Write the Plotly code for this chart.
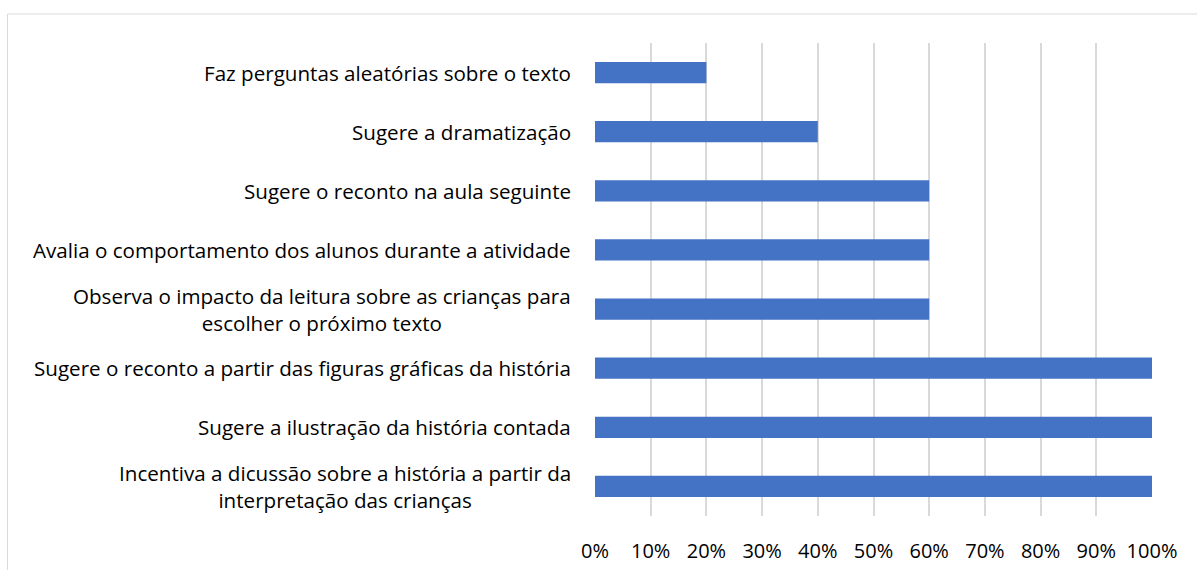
import plotly.graph_objects as go

categories = [
    "Faz perguntas aleatórias sobre o texto",
    "Sugere a dramatização",
    "Sugere o reconto na aula seguinte",
    "Avalia o comportamento dos alunos durante a atividade",
    "Observa o impacto da leitura sobre as crianças para<br>escolher o próximo texto",
    "Sugere o reconto a partir das figuras gráficas da história",
    "Sugere a ilustração da história contada",
    "Incentiva a dicussão sobre a história a partir da<br>interpretação das crianças",
]
values = [0.20, 0.40, 0.60, 0.60, 0.60, 1.00, 1.00, 1.00]
tick_vals = [i / 10 for i in range(11)]
tick_text = [f"{i*10}%" for i in range(11)]

FONT = "Open Sans"
fig = go.Figure(go.Bar(
    x=values, y=list(range(len(categories))), orientation="h",
    marker=dict(color="#4472C4", line=dict(width=0)),
    hoverinfo="skip",
))

for i, c in enumerate(categories):
    fig.add_annotation(
        x=0, y=i, xref="x", yref="y", text=c, showarrow=False,
        xanchor="right", yanchor="middle", align="center", xshift=-22,
        font=dict(family=FONT, size=20.6, color="#000000"),
    )

fig.add_shape(type="rect", xref="paper", yref="paper",
              x0=-1.0548, x1=1.3, y0=-0.3, y1=1.0613,
              line=dict(color="#d9d9d9", width=1), fillcolor="rgba(0,0,0,0)", layer="below")

fig.update_layout(
    width=1197, height=570,
    margin=dict(l=595, r=45, t=43, b=54, autoexpand=False),
    plot_bgcolor="white", paper_bgcolor="white",
    bargap=0.64, showlegend=False,
    xaxis=dict(range=[0, 1], tickvals=tick_vals, ticktext=tick_text,
               showgrid=True, gridcolor="#d9d9d9", gridwidth=1.5,
               zeroline=False, showline=False, ticks="", automargin=False,
               tickfont=dict(family=FONT, size=20, color="#000000"),
               ticklabelstandoff=21, fixedrange=True),
    yaxis=dict(autorange="reversed", showticklabels=False, showgrid=False,
               zeroline=False, showline=False, ticks="", automargin=False,
               fixedrange=True),
)

fig.write_html("out.html")
